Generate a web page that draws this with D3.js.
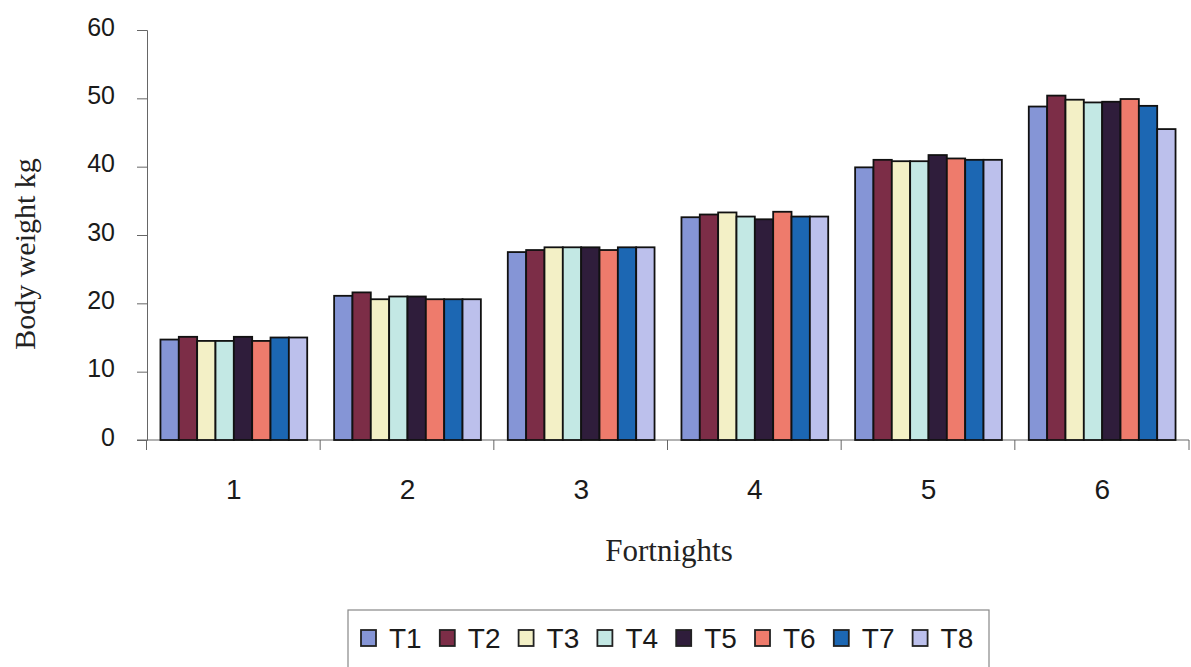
<!DOCTYPE html>
<html>
<head>
<meta charset="utf-8">
<script src="https://cdn.jsdelivr.net/npm/d3@7"></script>
<style>
  body { margin: 0; background: #fff; }
  svg { display: block; }
</style>
</head>
<body>
<div id="chart"></div>
<script>
// ---------------------------- DATA ----------------------------
const fortnights = ["1", "2", "3", "4", "5", "6"];
const treatments = ["T1", "T2", "T3", "T4", "T5", "T6", "T7", "T8"];
const T1 = [14.7, 21.1, 27.5, 32.6, 39.9, 48.8];
const T2 = [15.1, 21.6, 27.8, 33.0, 41.0, 50.4];
const T3 = [14.5, 20.6, 28.2, 33.3, 40.8, 49.8];
const T4 = [14.5, 21.0, 28.2, 32.7, 40.8, 49.4];
const T5 = [15.1, 21.0, 28.2, 32.3, 41.7, 49.5];
const T6 = [14.5, 20.6, 27.8, 33.4, 41.2, 49.9];
const T7 = [15.0, 20.6, 28.2, 32.7, 41.0, 48.9];
const T8 = [15.0, 20.6, 28.2, 32.7, 41.0, 45.5];
const yTicks = [0, 10, 20, 30, 40, 50, 60];
const colors = ["#8595d6", "#7c2d47", "#f3f0c6", "#c3e8e4", "#2f1d3b", "#ee7b6c", "#1c67b3", "#bcc0ec"];

const series = [T1, T2, T3, T4, T5, T6, T7, T8];

// ---------------------------- SVG -----------------------------
const width = 1191, height = 667;
const svg = d3.select("#chart").append("svg")
  .attr("width", width)
  .attr("height", height);

// --------------------------- SCALES ---------------------------
const x0 = d3.scaleBand()
  .domain(fortnights)
  .range([147, 1189])
  .paddingInner(0.155)
  .paddingOuter(0.0775);

const x1 = d3.scaleBand()
  .domain(treatments)
  .range([0, x0.bandwidth()]);

const y = d3.scaleLinear().domain([0, 60]).range([440, 30]);
const color = d3.scaleOrdinal().domain(treatments).range(colors);

// ---------------------------- AXES ----------------------------
const yaxis = d3.axisLeft(y).tickValues(yTicks).tickSize(10).tickPadding(22);
const gy = svg.append("g")
  .attr("transform", "translate(147,0)")
  .call(yaxis);
gy.select(".domain").attr("stroke", "#666");
gy.selectAll(".tick line").attr("stroke", "#666");
gy.selectAll(".tick text")
  .attr("font-family", "Liberation Sans, Arial, sans-serif")
  .attr("font-size", 25)
  .attr("dy", "0.2em")
  .attr("fill", "#1a1a1a");

// x axis line + ticks at band boundaries
const step = x0.step();
const boundaries = fortnights.map(c => x0(c) - step * x0.paddingInner() / 2 - 0.5)
  .concat([x0(fortnights[fortnights.length - 1]) + x0.bandwidth() + step * x0.paddingInner() / 2]);
svg.append("line")
  .attr("x1", 137).attr("x2", 1189)
  .attr("y1", y(0)).attr("y2", y(0))
  .attr("stroke", "#666");
svg.selectAll(".xtick")
  .data(boundaries)
  .enter().append("line")
  .attr("class", "xtick")
  .attr("x1", d => d).attr("x2", d => d)
  .attr("y1", y(0)).attr("y2", y(0) + 10)
  .attr("stroke", "#666");
svg.selectAll(".xlabel")
  .data(fortnights)
  .enter().append("text")
  .attr("class", "xlabel")
  .attr("x", d => x0(d) + x0.bandwidth() / 2)
  .attr("y", 499)
  .attr("text-anchor", "middle")
  .attr("font-family", "Liberation Sans, Arial, sans-serif")
  .attr("font-size", 28)
  .attr("fill", "#1a1a1a")
  .text(d => d);

// ---------------------------- BARS ----------------------------
const groups = svg.selectAll(".group")
  .data(fortnights)
  .enter().append("g")
  .attr("transform", d => "translate(" + x0(d) + ",0)");

groups.selectAll("rect")
  .data((d, i) => treatments.map((t, j) => ({ t: t, v: series[j][i] })))
  .enter().append("rect")
  .attr("x", d => x1(d.t))
  .attr("y", d => y(d.v))
  .attr("width", x1.bandwidth())
  .attr("height", d => y(0) - y(d.v))
  .attr("fill", d => color(d.t))
  .attr("stroke", "#111")
  .attr("stroke-width", 1.8);

// ---------------------------- TITLES --------------------------
svg.append("text")
  .attr("transform", "translate(35,254) rotate(-90)")
  .attr("text-anchor", "middle")
  .attr("font-family", "Liberation Serif, Times New Roman, serif")
  .attr("font-size", 30)
  .attr("fill", "#222")
  .text("Body weight kg");

svg.append("text")
  .attr("x", 669)
  .attr("y", 561)
  .attr("text-anchor", "middle")
  .attr("font-family", "Liberation Serif, Times New Roman, serif")
  .attr("font-size", 31)
  .attr("fill", "#222")
  .text("Fortnights");

// ---------------------------- LEGEND --------------------------
const legend = svg.append("g");
legend.append("rect")
  .attr("x", 348).attr("y", 610)
  .attr("width", 641).attr("height", 80)
  .attr("fill", "#fff")
  .attr("stroke", "#888")
  .attr("stroke-width", 1.2);

const items = legend.selectAll(".item")
  .data(treatments)
  .enter().append("g")
  .attr("transform", (d, i) => "translate(" + (361 + i * 78.8) + ",0)");
items.append("rect")
  .attr("x", 0).attr("y", 630)
  .attr("width", 15).attr("height", 16)
  .attr("fill", d => color(d))
  .attr("stroke", "#222")
  .attr("stroke-width", 1.8);
items.append("text")
  .attr("x", 28).attr("y", 648)
  .attr("font-family", "Liberation Sans, Arial, sans-serif")
  .attr("font-size", 28)
  .attr("fill", "#1a1a1a")
  .text(d => d);
</script>
</body>
</html>
